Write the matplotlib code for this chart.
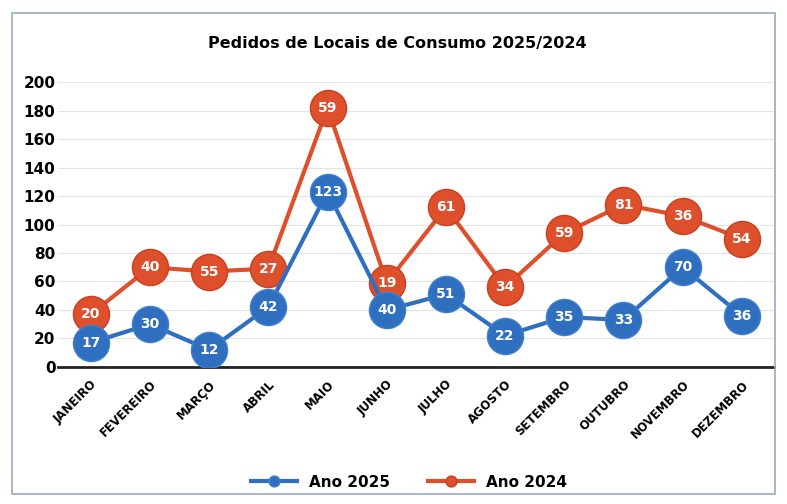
import numpy as np
from matplotlib import pyplot as plt
from matplotlib.patches import Rectangle

# data (2024 is stacked on top of 2025, as in the Excel chart)
months = ['JANEIRO', 'FEVEREIRO', 'MARÇO', 'ABRIL', 'MAIO', 'JUNHO',
          'JULHO', 'AGOSTO', 'SETEMBRO', 'OUTUBRO', 'NOVEMBRO', 'DEZEMBRO']
ano_2025 = [17, 30, 12, 42, 123, 40, 51, 22, 35, 33, 70, 36]
ano_2024 = [20, 40, 55, 27, 59, 19, 61, 34, 59, 81, 36, 54]
yticks = [0, 20, 40, 60, 80, 100, 120, 140, 160, 180, 200]

blue = '#2F6FBF'
red = '#DE4F2B'

fig = plt.figure(figsize=(7.87, 5.04), dpi=100)
ax = fig.add_axes([0.074, 0.272, 0.91, 0.565])

x = np.arange(len(months))
stacked = np.add(ano_2025, ano_2024)

ax.plot(x, ano_2025, color=blue, lw=3, marker='o', ms=26,
        markerfacecolor=blue, markeredgecolor='#3F80D0', label='Ano 2025', zorder=3)
ax.plot(x, stacked, color=red, lw=3, marker='o', ms=26,
        markerfacecolor=red, markeredgecolor='#C8401F', label='Ano 2024', zorder=2)

for xi, v in zip(x, ano_2025):
    ax.text(xi, v, str(v), color='white', ha='center', va='center',
            fontsize=10, fontweight='bold', zorder=4)
for xi, v, s in zip(x, ano_2024, stacked):
    ax.text(xi, s, str(v), color='white', ha='center', va='center',
            fontsize=10, fontweight='bold', zorder=4)

ax.set_xlim(-0.55, 11.55)
ax.set_ylim(0, 200)
ax.set_yticks(yticks)
ax.set_yticklabels([str(t) for t in yticks], fontsize=11, fontweight='bold')
ax.set_xticks(x)
ax.set_xticklabels(months, rotation=45, ha='right', rotation_mode='anchor',
                   fontsize=8.5, fontweight='bold')
ax.tick_params(length=0, pad=8)
ax.tick_params(axis='y', pad=2)
ax.grid(axis='y', color='#E4E4E4', lw=0.8)
ax.set_axisbelow(True)
for s in ['top', 'right', 'left']:
    ax.spines[s].set_visible(False)
ax.spines['bottom'].set_linewidth(2)
ax.spines['bottom'].set_color('#222222')
ax.spines['bottom'].set_zorder(1)

fig.text(0.505, 0.913, 'Pedidos de Locais de Consumo 2025/2024', ha='center',
         va='center', fontsize=11.5, fontweight='bold')

leg = ax.legend(loc='upper center', bbox_to_anchor=(0.49, -0.33), ncol=2,
                frameon=False, markerscale=0.3, handlelength=3,
                columnspacing=2.5, prop={'weight': 'bold', 'size': 11})

# chart border from the scan
fig.patches.append(Rectangle((0.015, 0.02), 0.97, 0.955, transform=fig.transFigure,
                             fill=False, edgecolor='#9AA8C0', lw=1.2))

plt.savefig('out.png', dpi=100)
